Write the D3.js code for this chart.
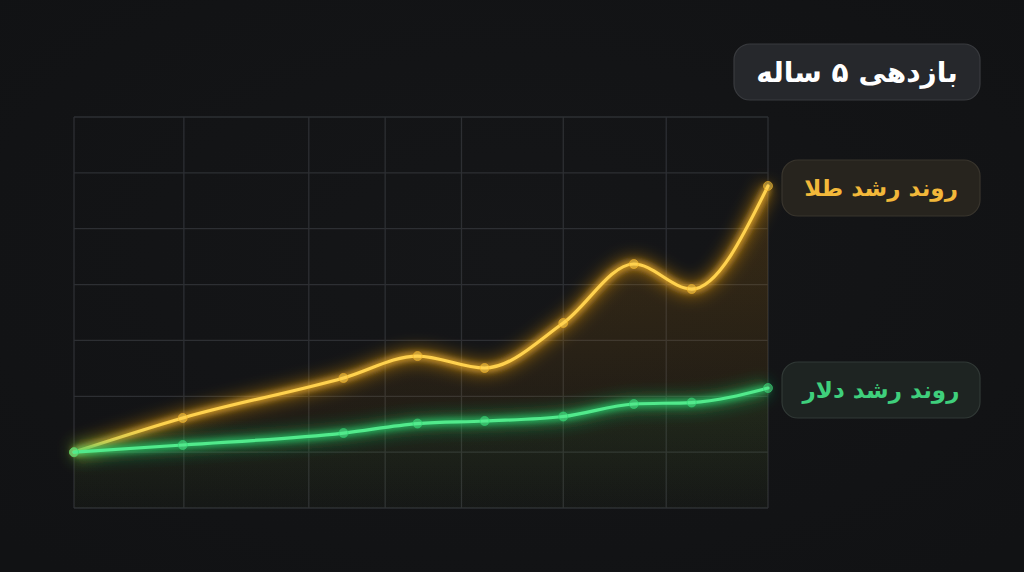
<!DOCTYPE html>
<html><head><meta charset="utf-8">
<script src="https://cdn.jsdelivr.net/npm/d3@7/dist/d3.min.js"></script>
<style>
html,body{margin:0;padding:0;background:#141517;overflow:hidden}
svg{display:block}
</style></head>
<body><svg id="c" width="1024" height="572"></svg>
<script>
// ---- data ----
const months = [0, 9.4, 23.3, 29.7, 35.5, 42.3, 48.4, 53.4, 60];
const goldValues = [100, 130.6, 166.4, 186, 175.3, 215.6, 268.4, 246, 338.3];
const dollarValues = [100, 106.4, 117.1, 125.6, 127.9, 131.9, 143.1, 144.4, 157.4];
const gridMonths = [0, 9.5, 20.3, 26.9, 33.5, 42.3, 51.2, 60];
const gridValues = [50, 100, 150, 200, 250, 300, 350, 400];
const titleText = "بازدهی ۵ ساله";
const goldLabel = "روند رشد طلا";
const dollarLabel = "روند رشد دلار";

const svg = d3.select("#c");
const W = 1024, H = 572;
const m = {left: 74, right: 768, top: 117, bottom: 508};
const x = d3.scaleLinear().domain([0, 60]).range([m.left, m.right]);
const y = d3.scaleLinear().domain([50, 400]).range([m.bottom, m.top]);

const defs = svg.append("defs");
function glow(id, sd){
  const f = defs.append("filter").attr("id", id).attr("x","-20%").attr("y","-40%").attr("width","140%").attr("height","180%");
  f.append("feGaussianBlur").attr("stdDeviation", sd);
}
glow("blurBig", 8);
glow("blurSmall", 3);
function grad(id, color, op){
  const g = defs.append("linearGradient").attr("id", id).attr("x1",0).attr("x2",0)
    .attr("gradientUnits","userSpaceOnUse").attr("y1", m.top+60).attr("y2", m.bottom);
  g.append("stop").attr("offset","0%").attr("stop-color", color).attr("stop-opacity", op);
  g.append("stop").attr("offset","100%").attr("stop-color", color).attr("stop-opacity", 0.02);
}
grad("gGold", "#b8780f", 0.24);
grad("gGreen", "#1a9a50", 0.24);
const bgGrad = defs.append("radialGradient").attr("id","bg").attr("cx","50%").attr("cy","45%").attr("r","70%");
bgGrad.append("stop").attr("offset","0%").attr("stop-color","#151618");
bgGrad.append("stop").attr("offset","100%").attr("stop-color","#111214");
svg.append("rect").attr("width",W).attr("height",H).attr("fill","url(#bg)");

// grid
const grid = svg.append("g");
grid.selectAll("line.h").data(gridValues).join("line")
  .attr("x1", m.left).attr("x2", m.right).attr("y1", d=>y(d)).attr("y2", d=>y(d))
  .attr("stroke","#2d2f33").attr("stroke-width",1.3);
grid.selectAll("line.v").data(gridMonths).join("line")
  .attr("y1", m.top).attr("y2", m.bottom).attr("x1", d=>x(d)).attr("x2", d=>x(d))
  .attr("stroke","#2d2f33").attr("stroke-width",1.3);

const gold = months.map((mm,i)=>({x:mm, v:goldValues[i]}));
const dollar = months.map((mm,i)=>({x:mm, v:dollarValues[i]}));
const line = d3.line().x(d=>x(d.x)).y(d=>y(d.v)).curve(d3.curveMonotoneX);
const area = d3.area().x(d=>x(d.x)).y0(m.bottom).y1(d=>y(d.v)).curve(d3.curveMonotoneX);

svg.append("path").datum(gold).attr("d", area).attr("fill","url(#gGold)");
svg.append("path").datum(dollar).attr("d", area).attr("fill","url(#gGreen)");

function drawLine(data, outer, core, hi){
  const g = svg.append("g");
  g.append("path").datum(data).attr("d", line).attr("fill","none").attr("stroke", outer)
    .attr("stroke-width", 14).attr("stroke-opacity", 0.5).attr("filter","url(#blurBig)");
  g.append("path").datum(data).attr("d", line).attr("fill","none").attr("stroke", core)
    .attr("stroke-width", 7).attr("stroke-opacity", 0.75).attr("filter","url(#blurSmall)");
  g.append("path").datum(data).attr("d", line).attr("fill","none").attr("stroke", hi)
    .attr("stroke-width", 3.2).attr("stroke-linecap","round");
  g.selectAll("circle").data(data).join("circle")
    .attr("cx", d=>x(d.x)).attr("cy", d=>y(d.v)).attr("r", 4.5)
    .attr("fill", hi).attr("fill-opacity", 0.5).attr("stroke", core).attr("stroke-opacity",0.6).attr("stroke-width",1);
}
drawLine(gold, "#e89a10", "#f5b52a", "#ffd24e");
drawLine(dollar, "#1fb85a", "#2fd672", "#52ea8c");

// labels
function badge(cx, cy, w, h, text, fill, stroke, color, size){
  const g = svg.append("g");
  g.append("rect").attr("x", cx - w/2).attr("y", cy - h/2).attr("width", w).attr("height", h)
    .attr("rx", 16).attr("fill", fill).attr("stroke", stroke).attr("stroke-width", 1.2);
  g.append("text").attr("x", cx).attr("y", cy).attr("text-anchor","middle").attr("dominant-baseline","central")
    .attr("direction","rtl").attr("font-family","'DejaVu Sans', sans-serif").attr("font-weight","bold")
    .attr("font-size", size).attr("fill", color).text(text);
}
badge(857, 72, 246, 56, titleText, "#26282c", "#393b3f", "#ffffff", 28);
badge(881, 188, 198, 56, goldLabel, "#27241e", "#39352d", "#f2b83a", 23);
badge(881, 390, 198, 56, dollarLabel, "#1e2422", "#313936", "#3fcf7c", 23);
</script></body></html>
